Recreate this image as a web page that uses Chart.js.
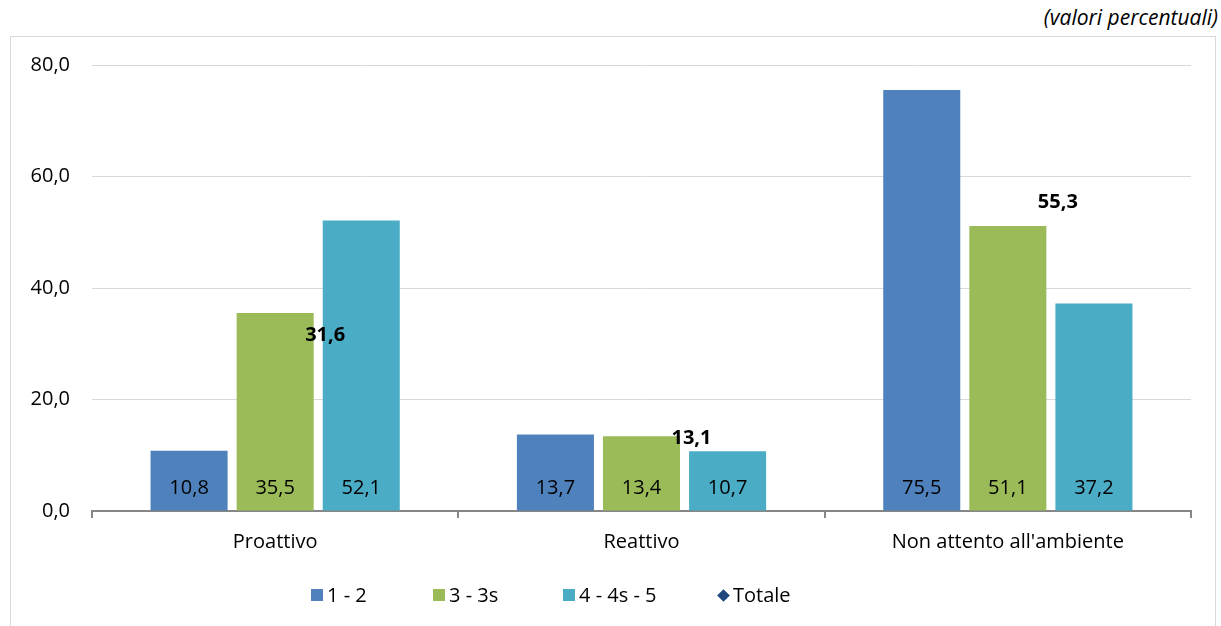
<!DOCTYPE html>
<html lang="it">
<head>
<meta charset="utf-8">
<title>Profili ambientali per classe</title>
<script src="https://cdn.jsdelivr.net/npm/chart.js@4.4.1/dist/chart.umd.min.js"></script>
<style>
  html, body { margin: 0; padding: 0; background: #fff; overflow: hidden; }
  #wrap { position: relative; width: 1221px; height: 626px; font-family: 'Open Sans', sans-serif; color: #000; }
  #frame { position: absolute; left: 10px; top: 36px; width: 1204px; height: 620px; border: 1px solid #d9d9d9; }
  #note { position: absolute; right: 3px; top: 3px; font-style: italic; font-size: 21px; }
  #chartBox { position: absolute; left: 0; top: 0; width: 1221px; height: 626px; }
  #legend { position: absolute; left: 311px; top: 580px; display: flex; font-size: 20px; line-height: 30px; }
  #legend .item { display: flex; align-items: center; }
  #legend .box { width: 12px; height: 12px; margin-right: 4px; }
  #legend .diamond { width: 9px; height: 9px; margin: 0 5px 0 2px; transform: rotate(45deg); }
</style>
</head>
<body>
<div id="wrap">
  <div id="frame"></div>
  <div id="note">(valori percentuali)</div>
  <div id="chartBox"><canvas id="profiliChart"></canvas></div>
  <div id="legend"></div>
</div>
<script>
const categories = ['Proattivo', 'Reattivo', "Non attento all'ambiente"];
const classe12 = [10.8, 13.7, 75.5];
const classe33s = [35.5, 13.4, 51.1];
const classe45 = [52.1, 10.7, 37.2];
const totale = [31.6, 13.1, 55.3];
const yTicks = [0, 20, 40, 60, 80];

const seriesNames = ['1 - 2', '3 - 3s', '4 - 4s - 5', 'Totale'];
const colors = ['#4f81bd', '#9bbb59', '#4bacc6', '#1f497d'];

const fmt = (v) => v.toFixed(1).replace('.', ',');
const font = (size, weight) => ({ family: "'Open Sans', sans-serif", size: size, weight: weight || 'normal' });

// values inside the bars + bold labels for the total
const valueLabels = {
    id: 'valueLabels',
    afterDatasetsDraw(chart) {
        const ctx = chart.ctx;
        ctx.save();
        ctx.fillStyle = '#000';
        ctx.textBaseline = 'middle';
        ctx.textAlign = 'center';
        ctx.font = "20px 'Open Sans', sans-serif";
        chart.data.datasets.forEach((ds, i) => {
            if (ds.type === 'line') return;
            chart.getDatasetMeta(i).data.forEach((bar, j) => {
                ctx.fillText(fmt(ds.data[j]), bar.x, bar.base - 22);
            });
        });
        const x = chart.scales.x, y = chart.scales.y;
        ctx.font = "bold 20px 'Open Sans', sans-serif";
        ctx.textAlign = 'left';
        totale.forEach((v, j) => {
            ctx.fillText(fmt(v), x.getPixelForValue(j) + 30, y.getPixelForValue(v));
        });
        ctx.restore();
    }
};

const barSet = (label, data, color) => ({
    label: label,
    data: data,
    backgroundColor: color,
    borderWidth: 0,
    categoryPercentage: 0.705,
    barPercentage: 0.895
});

new Chart(document.getElementById('profiliChart'), {
    type: 'bar',
    data: {
        labels: categories,
        datasets: [
            barSet(seriesNames[0], classe12, colors[0]),
            barSet(seriesNames[1], classe33s, colors[1]),
            barSet(seriesNames[2], classe45, colors[2]),
            {
                type: 'line',
                label: seriesNames[3],
                data: totale,
                showLine: false,
                pointRadius: 0,
                pointStyle: 'rectRot',
                pointBackgroundColor: colors[3],
                borderColor: colors[3]
            }
        ]
    },
    options: {
        responsive: true,
        maintainAspectRatio: false,
        animation: false,
        layout: { padding: { left: 0, right: 30, top: 65, bottom: 0 } },
        plugins: {
            legend: { display: false },
            tooltip: { enabled: false }
        },
        scales: {
            x: {
                afterFit: (s) => { s.height = 115; },
                grid: {
                    drawOnChartArea: false,
                    drawTicks: true,
                    tickLength: 7,
                    color: '#868686',
                    lineWidth: 2,
                    offset: true
                },
                border: { color: '#868686', width: 2 },
                ticks: { color: '#000', font: font(20), padding: 12 }
            },
            y: {
                min: 0,
                max: 80,
                afterFit: (s) => { s.width = 92; },
                afterBuildTicks: (s) => { s.ticks = yTicks.map(v => ({ value: v })); },
                grid: { color: '#d9d9d9', drawTicks: false },
                border: { display: false },
                ticks: { color: '#000', font: font(20), padding: 22, callback: (v) => fmt(v) }
            }
        }
    },
    plugins: [valueLabels]
});

// legend drawn as html under the plot
const legendWidths = [122, 130, 154, 0];
const legend = document.getElementById('legend');
seriesNames.forEach((name, i) => {
    const item = document.createElement('div');
    item.className = 'item';
    if (legendWidths[i]) item.style.width = legendWidths[i] + 'px';
    const mark = document.createElement('span');
    mark.className = i === 3 ? 'diamond' : 'box';
    mark.style.background = colors[i];
    const txt = document.createElement('span');
    txt.textContent = name;
    item.appendChild(mark);
    item.appendChild(txt);
    legend.appendChild(item);
});
</script>
</body>
</html>
